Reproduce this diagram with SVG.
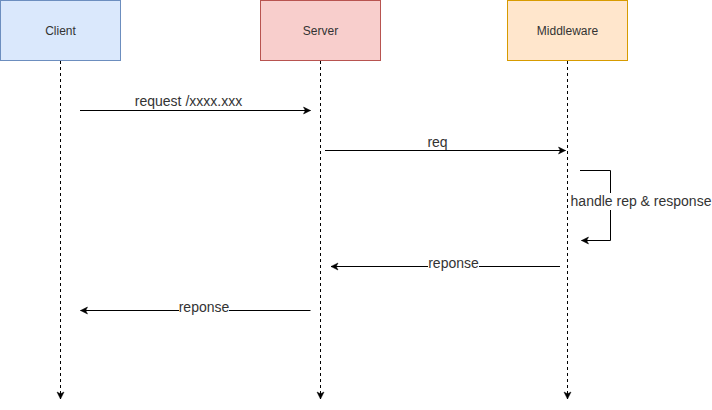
<svg xmlns="http://www.w3.org/2000/svg" width="712" height="410" viewBox="0 0 712 410">
  <style>
    .box-text { font-family: "Liberation Sans", Arial, sans-serif; font-size: 12px; fill: #333333; text-anchor: middle; }
    .lbl { font-family: "Liberation Sans", Arial, sans-serif; font-size: 14px; fill: #333333; text-anchor: middle; }
    .life { stroke: #000000; stroke-width: 1; stroke-dasharray: 3 3; fill: none; }
    .msg { stroke: #000000; stroke-width: 1; fill: none; }
    .lblbg { fill: #ffffff; }
  </style>
  <defs>
    <marker id="arrow" viewBox="-8 -5 9 10" refX="0" refY="0" markerWidth="9" markerHeight="10" markerUnits="userSpaceOnUse" orient="auto">
      <path d="M0,0 L-7,-3.5 L-5.2,0 L-7,3.5 Z" fill="#000000" stroke="#000000" stroke-width="0.5"/>
    </marker>
  </defs>
  <rect width="712" height="410" fill="#ffffff"/>

  <g id="client">
    <rect x="0.5" y="0.5" width="120" height="60" fill="#dae8fc" stroke="#6c8ebf"/>
    <text class="box-text" x="60.5" y="34.5">Client</text>
  </g>
  <g id="server">
    <rect x="260.5" y="0.5" width="120" height="60" fill="#f8cecc" stroke="#b85450"/>
    <text class="box-text" x="320.5" y="34.5">Server</text>
  </g>
  <g id="middleware">
    <rect x="507.5" y="0.5" width="120" height="60" fill="#ffe6cc" stroke="#d79b00"/>
    <text class="box-text" x="567.5" y="34.5">Middleware</text>
  </g>

  <g id="connectors">
    <line class="life" x1="60.5" y1="61" x2="60.5" y2="399" marker-end="url(#arrow)"/>
    <line class="life" x1="320.5" y1="61" x2="320.5" y2="399" marker-end="url(#arrow)"/>
    <line class="life" x1="567.5" y1="61" x2="567.5" y2="399" marker-end="url(#arrow)"/>

    <line class="msg" x1="80" y1="110.5" x2="310.5" y2="110.5" marker-end="url(#arrow)"/>
    <text class="lbl" x="188.5" y="106">request /xxxx.xxx</text>

    <line class="msg" x1="325" y1="150.5" x2="565.5" y2="150.5" marker-end="url(#arrow)"/>
    <text class="lbl" x="437.5" y="146.5">req</text>

    <polyline class="msg" points="580,170.5 610.5,170.5 610.5,240.5 581.5,240.5" marker-end="url(#arrow)"/>
    <rect class="lblbg" x="570" y="193" width="142" height="17"/>
    <text class="lbl" x="641" y="206">handle rep &amp; response</text>

    <line class="msg" x1="560" y1="266.5" x2="331" y2="266.5" marker-end="url(#arrow)"/>
    <rect class="lblbg" x="428" y="256" width="51" height="14"/>
    <text class="lbl" x="453.5" y="267.5">reponse</text>

    <line class="msg" x1="310.5" y1="310.5" x2="80.5" y2="310.5" marker-end="url(#arrow)"/>
    <rect class="lblbg" x="179" y="300" width="50" height="14"/>
    <text class="lbl" x="204" y="312">reponse</text>
  </g>
</svg>
